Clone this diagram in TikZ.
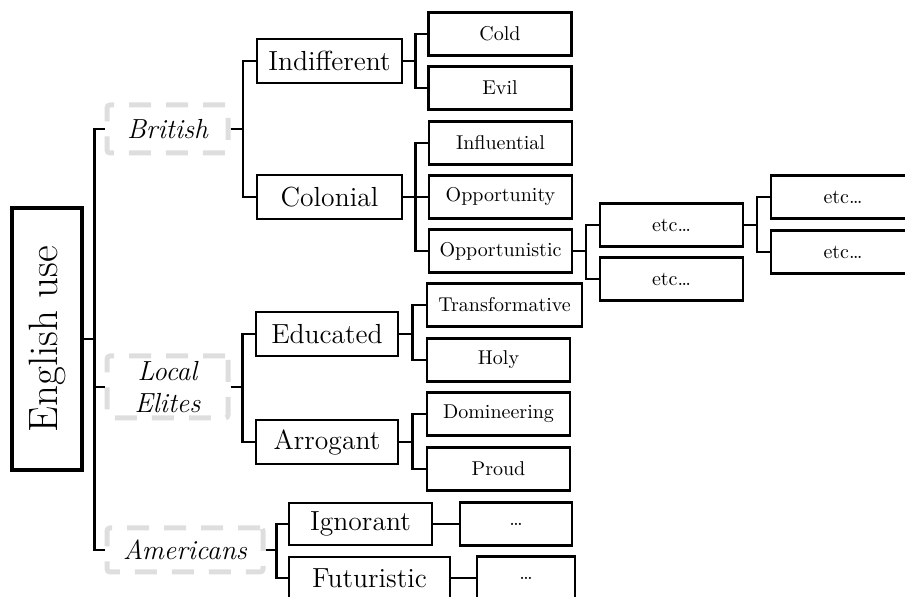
\documentclass[tikz,border=0pt]{standalone}
\usepackage{graphicx}
\usepackage{tikz}
\usetikzlibrary{calc}

\tikzset{
  rootbox/.style={draw,line width=2pt,minimum width=35pt,minimum height=131pt,
    inner sep=2pt,font=\fontsize{20.5}{24}\selectfont},
  groupbox/.style={draw=black!13,line width=2.5pt,dash pattern=on 11pt off 7.5pt,
    rounded corners=1.5pt,minimum width=60.5pt,inner sep=2pt,align=center,
    font=\fontsize{13.8}{16}\selectfont\itshape},
  midbox/.style={draw,line width=1.3pt,minimum width=72.5pt,minimum height=22pt,
    inner sep=2pt,font=\fontsize{13.8}{16}\selectfont},
  leafbox/.style={draw,line width=1.3pt,minimum width=71.5pt,minimum height=21.5pt,
    inner sep=2pt,font=\fontsize{10}{12}\selectfont},
  conn/.style={line width=1.3pt}
}

\begin{document}
\begin{tikzpicture}[x=0.5pt,y=-0.5pt]
  \useasboundingbox (0,0) rectangle (905,597);
  % root and the three groups
  \node[rootbox] (root) at (47,339) {\rotatebox{90}{English use}};
  \node[groupbox,minimum height=24pt] (brit) at (167.5,129) {British};
  \node[groupbox,minimum height=31pt] (elite) at (167.5,387) {Local\\Elites};
  \node[groupbox,minimum width=78pt,minimum height=22pt] (amer) at (185,550) {Americans};
  % second level
  \node[midbox] (indiff) at (329.5,61) {Indifferent};
  \node[midbox] (colon) at (329.5,197) {Colonial};
  \node[midbox,minimum width=71pt] (educ) at (327,334) {Educated};
  \node[midbox,minimum width=71pt] (arrog) at (327,442) {Arrogant};
  \node[midbox,minimum width=71.5pt,minimum height=21pt] (ignor) at (360.5,524) {Ignorant};
  \node[midbox,minimum width=80.5pt,minimum height=21pt] (futur) at (369.5,578) {Futuristic};
  % leaves
  \node[leafbox] (cold) at (500,34) {Cold};
  \node[leafbox] (evil) at (500,88) {Evil};
  \node[leafbox] (influ) at (500.5,143) {Influential};
  \node[leafbox] (oppty) at (500.5,197) {Opportunity};
  \node[leafbox] (oppic) at (500.5,251) {Opportunistic};
  \node[leafbox,minimum width=77.5pt] (trans) at (504.5,305) {Transformative};
  \node[leafbox] (holy) at (498.5,360) {Holy};
  \node[leafbox] (domin) at (498.5,414) {Domineering};
  \node[leafbox] (proud) at (498.5,469) {Proud};
  \node[leafbox,minimum width=56pt] (ignmore) at (516,524) {\ldots};
  \node[leafbox,minimum width=49pt] (futmore) at (526,578) {\ldots};
  % etc. branch
  \node[leafbox] (etca) at (671.5,225) {etc\ldots};
  \node[leafbox] (etcb) at (671.5,279) {etc\ldots};
  \node[leafbox,minimum width=72pt] (etcc) at (843,197) {etc\ldots};
  \node[leafbox,minimum width=72pt] (etcd) at (843,252) {etc\ldots};
  % connectors
  \foreach \a/\b in {root/brit,root/elite,root/amer,
      brit/indiff,brit/colon,elite/educ,elite/arrog,amer/ignor,amer/futur,
      indiff/cold,indiff/evil,colon/influ,colon/oppty,colon/oppic,
      educ/trans,educ/holy,arrog/domin,arrog/proud,
      ignor/ignmore,futur/futmore,
      oppic/etca,oppic/etcb,etca/etcc,etca/etcd}
    \draw[conn] (\a.east) -| ($(\a.east)!.5!(\b.west)$) |- (\b.west);
\end{tikzpicture}
\end{document}
